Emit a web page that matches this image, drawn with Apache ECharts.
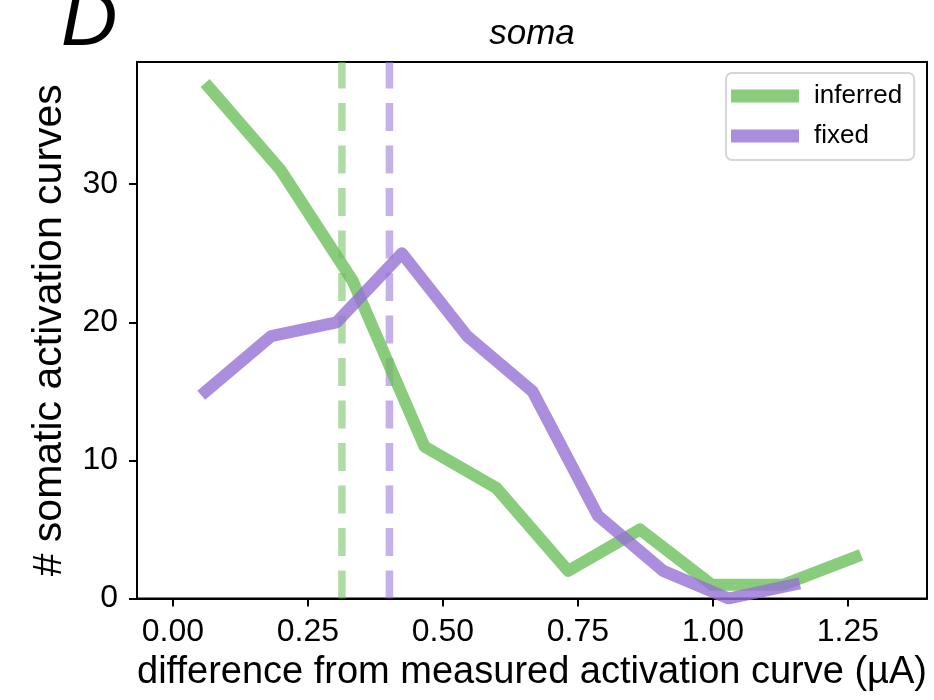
<!DOCTYPE html>
<html>
<head>
<meta charset="utf-8">
<script src="https://cdn.jsdelivr.net/npm/echarts@6.0.0/dist/echarts.min.js"></script>
<style>
  html, body { margin: 0; padding: 0; background: #fff; }
  #chart { width: 934px; height: 700px; }
</style>
</head>
<body>
<div id="chart"></div>
<script>
// Histogram bin centres and counts for each fitting mode
const inferredX = [0.067, 0.200, 0.333, 0.466, 0.599, 0.732, 0.865, 0.998, 1.131, 1.264];
const inferredCounts = [37, 31, 23, 11, 8, 2, 5, 1, 1, 3];
const fixedX = [0.061, 0.182, 0.303, 0.424, 0.545, 0.666, 0.787, 0.908, 1.029, 1.150];
const fixedCounts = [15, 19, 20, 25, 19, 15, 6, 2, 0, 1];
const seriesNames = ['inferred', 'fixed'];
// Median difference of each distribution (dashed markers)
const medianX = [0.313, 0.401];
const xTicks = [0, 0.25, 0.5, 0.75, 1.0, 1.25];
const yTicks = [0, 10, 20, 30];

const X_MIN = -0.0665, X_MAX = 1.3965, Y_MIN = 0, Y_MAX = 38.85;
const FONT = 'Liberation Sans';
const lineColors = ['rgba(108,191,90,0.8)', 'rgba(150,112,212,0.8)'];
const dashColors = ['rgba(108,191,90,0.55)', 'rgba(150,112,212,0.55)'];

const pairs = (xs, ys) => xs.map((x, i) => [x, ys[i]]);

const chart = echarts.init(document.getElementById('chart'), null, { renderer: 'canvas' });

const medianSeries = medianX.map((m, i) => ({
  name: seriesNames[i] + ' median',
  type: 'line',
  data: [[m, Y_MIN], [m, Y_MAX]],
  symbol: 'none',
  silent: true,
  z: 1,
  lineStyle: { color: dashColors[i], width: 7.5, type: [28, 14.5], cap: 'butt' }
}));

const countSeries = [inferredCounts, fixedCounts].map((ys, i) => ({
  name: seriesNames[i],
  type: 'line',
  data: pairs(i === 0 ? inferredX : fixedX, ys),
  symbol: 'none',
  z: 2 + i,
  itemStyle: { color: lineColors[i] },
  lineStyle: { color: lineColors[i], width: 12, cap: 'square', join: 'round' }
}));

const axisLineStyle = { color: '#000', width: 2 };

chart.setOption({
  animation: false,
  backgroundColor: '#fff',
  title: [
    {
      text: 'D', left: 61, top: -16, padding: 0,
      textStyle: { fontFamily: FONT, fontSize: 78, fontStyle: 'italic', fontWeight: 'normal', color: '#000' }
    },
    {
      text: 'soma', left: 532, top: 17, padding: 0, textAlign: 'center',
      textStyle: { fontFamily: FONT, fontSize: 35, fontStyle: 'italic', fontWeight: 'normal', color: '#000' }
    }
  ],
  legend: {
    data: seriesNames,
    orient: 'vertical',
    left: 726, top: 73,
    icon: 'rect',
    itemWidth: 68, itemHeight: 13, itemGap: 14,
    padding: [10, 12, 11, 5],
    backgroundColor: '#fff',
    borderColor: '#d6d6d6', borderWidth: 2, borderRadius: 6,
    textStyle: { fontFamily: FONT, fontSize: 26, color: '#000', padding: [0, 0, 0, 10] }
  },
  grid: {
    left: 137, right: 7, top: 62, bottom: 101.5,
    show: true, borderColor: '#000', borderWidth: 2, backgroundColor: 'transparent'
  },
  xAxis: {
    type: 'value', min: X_MIN, max: X_MAX,
    name: 'difference from measured activation curve (\u00b5A)',
    nameLocation: 'middle', nameGap: 49,
    nameTextStyle: { fontFamily: FONT, fontSize: 38, color: '#000' },
    axisLine: { show: true, onZero: false, lineStyle: axisLineStyle },
    splitLine: { show: false },
    axisTick: { show: true, customValues: xTicks, length: 8, inside: false, lineStyle: axisLineStyle },
    axisLabel: {
      customValues: xTicks, margin: 18,
      formatter: v => v.toFixed(2),
      fontFamily: FONT, fontSize: 32, color: '#000'
    }
  },
  yAxis: {
    type: 'value', min: Y_MIN, max: Y_MAX,
    name: '# somatic activation curves',
    nameLocation: 'middle', nameGap: 67, nameRotate: 90,
    nameTextStyle: { fontFamily: FONT, fontSize: 41, color: '#000' },
    axisLine: { show: true, onZero: false, lineStyle: axisLineStyle },
    splitLine: { show: false },
    axisTick: { show: true, customValues: yTicks, length: 8, inside: false, lineStyle: axisLineStyle },
    axisLabel: {
      customValues: yTicks, margin: 19,
      fontFamily: FONT, fontSize: 32, color: '#000'
    }
  },
  series: medianSeries.concat(countSeries)
});
</script>
</body>
</html>
